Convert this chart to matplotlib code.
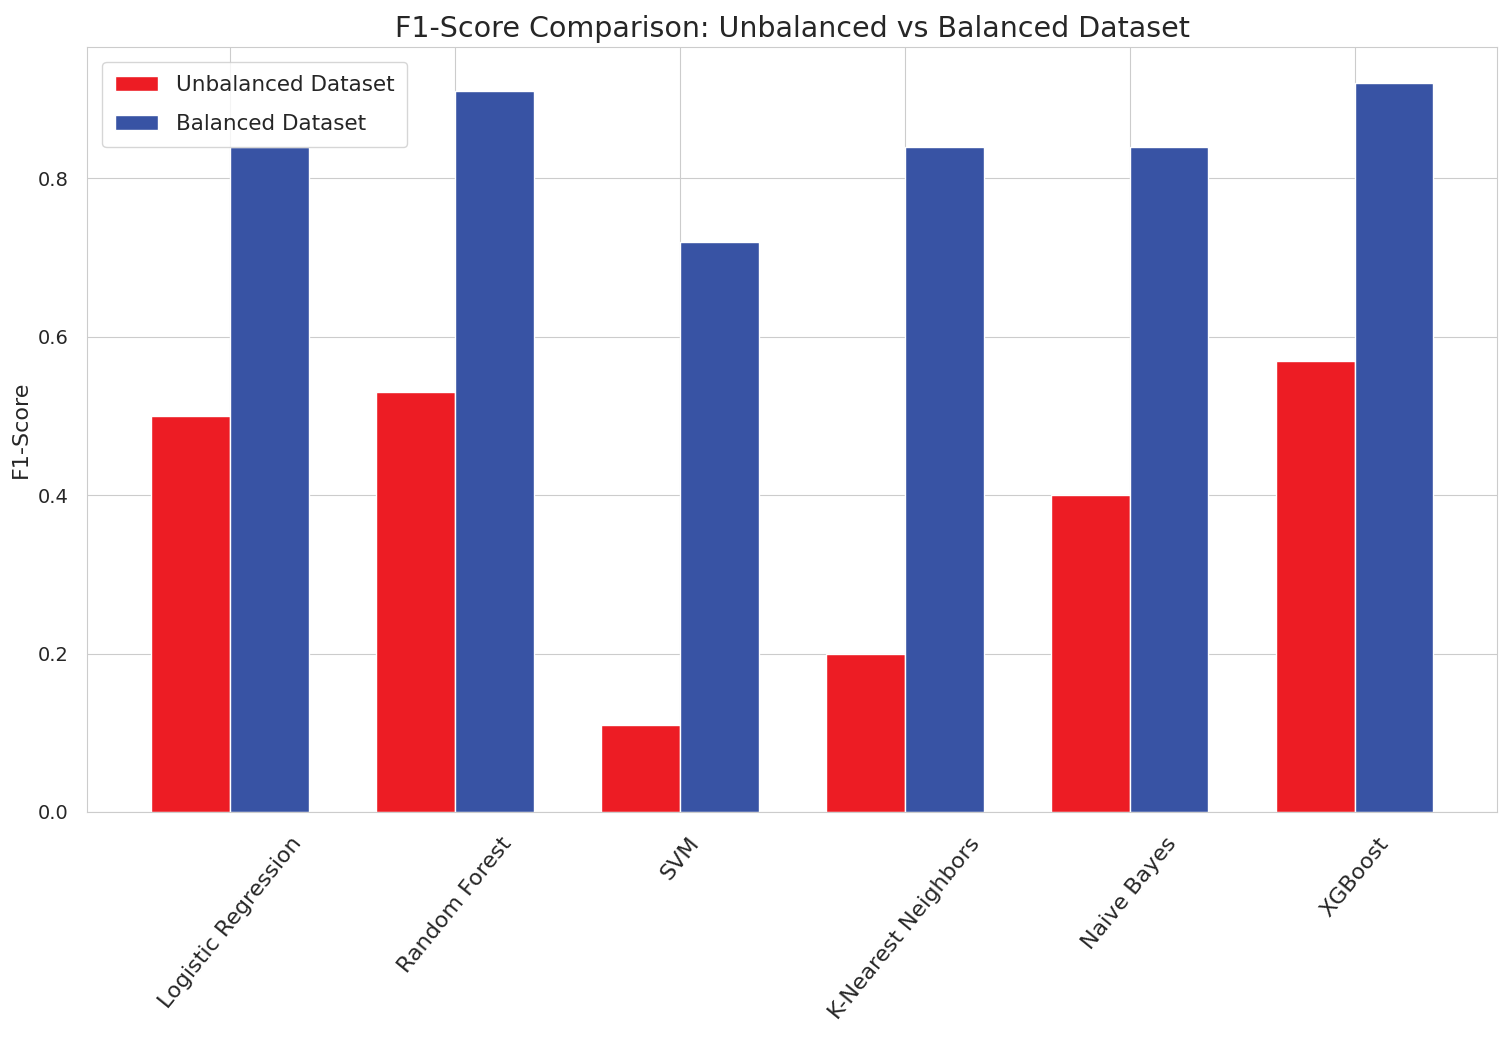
import numpy as np
import matplotlib
matplotlib.use("Agg")
import matplotlib.pyplot as plt
import seaborn as sns

# data
models = ["Logistic Regression", "Random Forest", "SVM",
          "K-Nearest Neighbors", "Naive Bayes", "XGBoost"]
f1_unbalanced = [0.50, 0.53, 0.11, 0.20, 0.40, 0.57]
f1_balanced = [0.84, 0.91, 0.72, 0.84, 0.84, 0.92]

sns.set_style("whitegrid")
plt.rcParams['font.family'] = ['DejaVu Sans']

x = np.arange(len(models))
width = 0.35

fig = plt.figure(figsize=(15.05, 10.43), dpi=100)
ax = fig.add_axes([0.058, 0.2215, 0.937, 0.7335])

ax.bar(x - width / 2, f1_unbalanced, width, label="Unbalanced Dataset",
       color="#ED1C24", edgecolor="white", linewidth=1)
ax.bar(x + width / 2, f1_balanced, width, label="Balanced Dataset",
       color="#3853A4", edgecolor="white", linewidth=1)

ax.set_title("F1-Score Comparison: Unbalanced vs Balanced Dataset",
             fontsize=20.5, color="#262626", pad=7)
ax.set_ylabel("F1-Score", fontsize=16, color="#262626", labelpad=5)
ax.set_xticks(x)
ax.set_xticklabels(models, rotation=51, fontsize=16, color="#262626")
ax.tick_params(axis="x", pad=12)
ax.tick_params(axis="y", labelsize=14, labelcolor="#262626", pad=10)
ax.set_yticks([0.0, 0.2, 0.4, 0.6, 0.8])

ax.legend(loc="upper left", fontsize=15.5, frameon=True,
          labelspacing=0.9, borderpad=0.6, handlelength=2.0,
          borderaxespad=0.7)

fig.savefig("out.png", dpi=100)
